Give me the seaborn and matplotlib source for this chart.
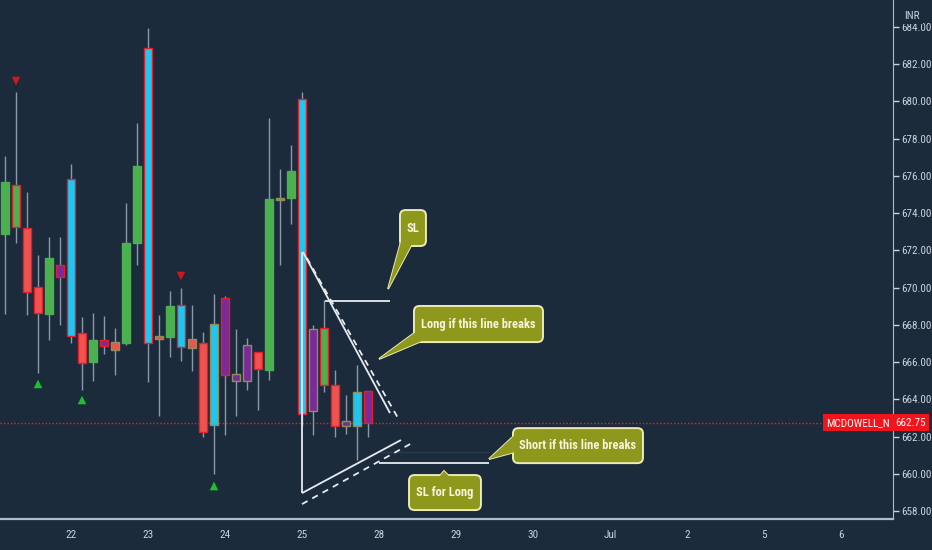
import numpy as np
import pandas as pd
import matplotlib
matplotlib.use('Agg')
import matplotlib.pyplot as plt
from matplotlib import font_manager
from matplotlib.patches import FancyBboxPatch, Polygon
import seaborn as sns

# ---------------------------------------------------------
# DATA (hourly candles, MCDOWELL_N)
# ---------------------------------------------------------
opens = [672.88, 675.51, 673.20, 670.04, 668.59, 671.22, 675.84, 667.57, 666.01, 667.19,
         666.65, 667.03, 672.40, 682.87, 667.24, 667.35, 669.07, 666.76, 667.03, 662.63,
         669.45, 664.99, 664.99, 666.55, 665.58, 674.71, 674.82, 680.13, 663.38, 667.83,
         664.77, 662.57, 662.57, 664.45]
highs = [677.07, 680.51, 675.14, 671.76, 672.72, 672.72, 676.64, 668.43, 668.64, 668.48,
         667.83, 674.55, 678.84, 683.95, 668.53, 669.82, 669.98, 669.07, 667.62, 669.66,
         669.55, 667.78, 667.30, 666.55, 679.11, 676.37, 677.66, 680.51, 668.00, 669.34,
         665.58, 664.24, 665.85, 664.45]
lows = [668.59, 672.40, 668.53, 665.42, 667.19, 668.00, 667.03, 664.50, 664.99, 666.44,
        665.31, 666.92, 671.22, 664.93, 663.11, 666.28, 666.06, 665.53, 661.98, 659.99,
        662.09, 663.11, 664.50, 663.43, 665.04, 671.22, 673.42, 662.60, 662.09, 664.40,
        661.98, 662.14, 660.75, 661.98]
closes = [675.68, 673.26, 669.77, 668.64, 671.59, 670.57, 667.40, 665.95, 667.19, 666.87,
          667.08, 672.40, 676.53, 667.03, 667.40, 669.02, 666.81, 667.24, 662.25, 668.05,
          665.31, 665.36, 666.92, 665.63, 674.76, 674.82, 676.27, 663.22, 667.78, 664.77,
          662.57, 662.84, 664.40, 662.75]
body_keys = ['g', 'g', 'r', 'r', 'g', 'p', 'c', 'r', 'g', 'p', 'r', 'g', 'g', 'c', 'r', 'g', 'c',
             'r', 'r', 'c', 'p', 'p', 'p', 'r', 'g', 'g', 'g', 'c', 'p', 'g', 'r', 'p', 'c', 'p']
edge_keys = ['g', 'r', 'r', 'r', 'g', 'r', 'r', 'r', 'g', 'r', 'o', 'g', 'g', 'r', 'o', 'g', 'r',
             'o', 'r', 'o', 'r', 'o', 'o', 'r', 'g', 'o', 'g', 'r', 'o', 'r', 'r', 'o', 'o', 'r']

sell_idx = [1, 16]
sell_px = [681.1, 670.63]
buy_idx = [3, 7, 19]
buy_px = [664.83, 663.97, 659.35]

last_price = 662.75
symbol = 'MCDOWELL_N'

day_pos = [6, 13, 20, 27, 34, 41, 48, 55, 62, 69, 76]
day_labels = ['22', '23', '24', '25', '28', '29', '30', 'Jul', '2', '5', '6']
price_ticks = np.arange(658, 685, 2)

# drawn trend lines (bar index, price)
upper_solid = ([27.09, 35.0], [671.92, 663.27])
upper_dash = ([27.45, 35.73], [671.59, 663.0])
lower_solid = ([27.0, 36.0], [658.97, 661.82])
lower_dash = ([27.0, 37.0], [658.38, 661.66])
left_vert = ([27.0, 27.0], [671.92, 658.97])
sl_short = ([29.09, 35.0], [669.29, 669.29])
sl_long = ([34.0, 44.0], [660.58, 660.58])

# callouts: text, box (x0, x1, y0, y1), pointer (base1, base2, tip)
callouts = [
    ('SL', (35.91, 38.27, 672.24, 674.17),
     [(36.09, 672.67), (37.0, 672.35), (34.82, 669.93)]),
    ('Long if this line breaks', (37.18, 48.91, 667.08, 669.02),
     [(37.45, 667.67), (38.09, 667.19), (34.0, 666.17)]),
    ('Short if this line breaks', (46.18, 58.0, 660.58, 662.46),
     [(46.45, 662.14), (47.0, 661.28), (44.0, 660.8)]),
    ('SL for Long', (36.73, 43.27, 658.06, 659.94),
     [(39.45, 659.83), (40.45, 659.83), (39.91, 660.15)]),
]

# ---------------------------------------------------------
# STYLE
# ---------------------------------------------------------
bg = '#1c2b3c'
txt = '#c9d2dd'
axis_col = '#aebdcc'
body_pal = {'g': '#4caf50', 'r': '#ef5350', 'c': '#1ec6f2', 'p': '#7b2a9a'}
edge_pal = {'g': '#4caf50', 'r': '#e3202a', 'o': '#8c8f5a'}
olive = '#8e981d'
cream = '#ecebb5'

sns.set_theme(style='dark', rc={'axes.facecolor': bg, 'figure.facecolor': bg})

# pick the narrowest family that is installed
installed = {f.name for f in font_manager.fontManager.ttflist}
condensed = {f.name for f in font_manager.fontManager.ttflist
             if str(f.stretch) in ('condensed', 'semi-condensed', '75', '87')}
narrow = None
for fam in ['Liberation Sans Narrow', 'Roboto Condensed', 'Open Sans Condensed',
            'DejaVu Sans Condensed']:
    if fam in installed:
        narrow = fam
        break
stretch = 'normal'
if narrow is None:
    for fam in ['DejaVu Sans', 'Noto Sans', 'Open Sans', 'Roboto']:
        if fam in condensed:
            narrow, stretch = fam, 'condensed'
            break
if narrow is None:
    narrow = 'Roboto' if 'Roboto' in installed else 'DejaVu Sans'
    scale = 0.85
else:
    scale = 1.0
plt.rcParams['font.family'] = [narrow, 'DejaVu Sans']
plt.rcParams['font.stretch'] = stretch

fig = plt.figure(figsize=(9.32, 5.5), dpi=100)
ax = fig.add_axes([0, 31 / 550, 893 / 932, 519 / 550])
ax.set_facecolor(bg)

df = pd.DataFrame({'open': opens, 'high': highs, 'low': lows, 'close': closes,
                   'body': body_keys, 'edge': edge_keys})
df['x'] = np.arange(len(df))
df['bot'] = df[['open', 'close']].min(axis=1)
df['h'] = (df['open'] - df['close']).abs().clip(lower=0.12)

# wicks
ax.vlines(df['x'], df['low'], df['high'], color='#8b98a8', lw=1.0, zorder=2)
# bodies
ax.bar(df['x'], df['h'], bottom=df['bot'], width=0.7,
       color=[body_pal[k] for k in df['body']],
       edgecolor=[edge_pal[k] for k in df['edge']], linewidth=1.0, zorder=3)

# signal markers
sns.scatterplot(x=sell_idx, y=sell_px, marker='v', color='#d0161e', s=38,
                edgecolor='none', ax=ax, zorder=4)
sns.scatterplot(x=buy_idx, y=buy_px, marker='^', color='#19c22a', s=38,
                edgecolor='none', ax=ax, zorder=4)

# last price line
ax.axhline(last_price, color='#e3242b', lw=1.0, ls=(0, (1, 1.5)), zorder=1)

# drawings
lc = '#e6ebf0'
for xs, ys in [upper_solid, lower_solid, left_vert, sl_short, sl_long]:
    ax.plot(xs, ys, color=lc, lw=1.3, zorder=5, solid_capstyle='butt')
for xs, ys in [upper_dash, lower_dash]:
    ax.plot(xs, ys, color=lc, lw=1.3, ls=(0, (3.5, 3)), zorder=5)
ax.plot([34.0, 44.0], [661.17, 661.17], color='#2b3b4e', lw=1.0, zorder=1)

# callouts
for label, (x0, x1, y0, y1), pts in callouts:
    ax.add_patch(Polygon(pts, closed=True, fc=olive, ec=cream, lw=1.4, zorder=6))
    ax.add_patch(FancyBboxPatch((x0, y0), x1 - x0, y1 - y0,
                                boxstyle='round,pad=0,rounding_size=0.5',
                                mutation_aspect=11 / 18.62,
                                fc=olive, ec=cream, lw=1.4, zorder=7))
    ax.add_patch(Polygon(pts, closed=True, fc=olive, ec='none', zorder=8))
    ax.text((x0 + x1) / 2, (y0 + y1) / 2, label, ha='center', va='center',
            color='#f7f4dc', fontsize=9 * scale, fontweight='bold', zorder=9)

# axes
ax.set_xlim(-0.4545, 80.73)
ax.set_ylim(657.58, 685.45)
ax.set_xticks(day_pos)
ax.set_xticklabels(day_labels)
ax.set_yticks(price_ticks)
ax.set_yticklabels([f'{v:.2f}' for v in price_ticks])
ax.yaxis.tick_right()
ax.tick_params(axis='both', colors=txt, labelsize=8 * scale, length=4, width=1, direction='out')
ax.tick_params(axis='y', pad=2)
ax.tick_params(axis='x', pad=4)
ax.grid(False)
for s in ['left', 'top']:
    ax.spines[s].set_visible(False)
ax.spines['right'].set_color(axis_col)
ax.spines['right'].set_linewidth(0.8)
ax.spines['bottom'].set_color(axis_col)
ax.spines['bottom'].set_linewidth(1.6)

# price labels
ax.text(1.0 + 2 / 893, last_price, f'{last_price:.2f}', transform=ax.get_yaxis_transform(),
        ha='left', va='center', color='white', fontsize=8 * scale, zorder=10,
        bbox=dict(boxstyle='square,pad=0.3', fc='#f0141c', ec='none'))
ax.text(1.0 - 3 / 893, last_price, symbol, transform=ax.get_yaxis_transform(),
        ha='right', va='center', color='white', fontsize=8 * scale, zorder=10,
        bbox=dict(boxstyle='square,pad=0.3', fc='#f0141c', ec='none'))
fig.text(912 / 932, 1 - 16 / 550, 'INR', ha='center', va='center', color=txt,
         fontsize=8 * scale, zorder=10,
         bbox=dict(boxstyle='square,pad=0.3', fc=bg, ec='none'))

fig.savefig('out.png', dpi=100, facecolor=bg)
